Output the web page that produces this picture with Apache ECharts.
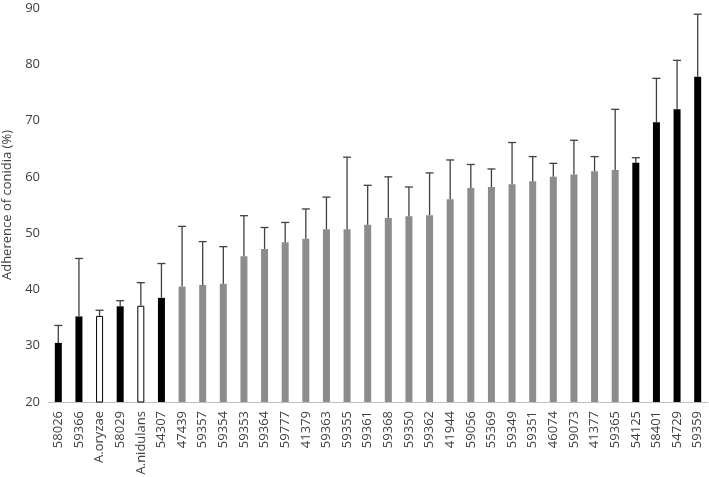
<!DOCTYPE html>
<html>
<head>
    <meta charset="utf-8" />
    <title>Adherence of conidia</title>
    <script src="https://cdn.jsdelivr.net/npm/echarts@6/dist/echarts.min.js"></script>
    <style>
        html, body { margin: 0; padding: 0; background: #fff; }
        #chart { width: 709px; height: 477px; }
    </style>
</head>
<body>
    <div id="chart"></div>
    <script>
        // strains, in plotted order
        var strains = ['58026', '59366', 'A.oryzae', '58029', 'A.nidulans', '54307', '47439', '59357', '59354', '59353',
            '59364', '59777', '41379', '59363', '59355', '59361', '59368', '59350', '59362', '41944',
            '59056', '55369', '59349', '59351', '46074', '59073', '41377', '59365', '54125', '58401',
            '54729', '59359'];
        // mean adherence (%)
        var adherence = [30.5, 35.2, 35.3, 37.0, 37.1, 38.5, 40.5, 40.8, 41.0, 45.9,
            47.2, 48.4, 49.0, 50.7, 50.7, 51.5, 52.7, 53.0, 53.2, 56.0,
            58.0, 58.2, 58.7, 59.2, 60.0, 60.4, 61.0, 61.2, 62.5, 69.7,
            72.0, 77.8];
        // upper error (sd)
        var sd = [3.1, 10.3, 1.0, 1.0, 4.1, 6.1, 10.7, 7.7, 6.6, 7.2,
            3.8, 3.5, 5.3, 5.7, 12.8, 7.0, 7.3, 5.2, 7.5, 7.0,
            4.2, 3.2, 7.4, 4.4, 2.4, 6.1, 2.6, 10.8, 0.9, 7.8,
            8.7, 11.1];
        // bar style group: b = black, g = grey, o = open
        var group = ['b', 'b', 'o', 'b', 'o', 'b', 'g', 'g', 'g', 'g',
            'g', 'g', 'g', 'g', 'g', 'g', 'g', 'g', 'g', 'g',
            'g', 'g', 'g', 'g', 'g', 'g', 'g', 'g', 'b', 'b',
            'b', 'b'];
        var yTicks = [20, 30, 40, 50, 60, 70, 80, 90];

        var styles = {
            b: { color: '#000000', borderColor: '#000000', borderWidth: 0 },
            g: { color: '#8c8c8c', borderColor: '#8c8c8c', borderWidth: 0 },
            o: { color: '#ffffff', borderColor: '#000000', borderWidth: 1 }
        };

        var barData = [];
        var errData = [];
        for (var i = 0; i < strains.length; i++) {
            barData.push({ value: adherence[i], itemStyle: styles[group[i]] });
            errData.push([i, adherence[i], adherence[i] + sd[i]]);
        }

        var chart = echarts.init(document.getElementById('chart'));
        var font = '"Open Sans", "Liberation Sans", sans-serif';
        chart.setOption({
            animation: false,
            grid: { left: 48, right: 1, top: 8, bottom: 75, outerBoundsMode: 'none' },
            xAxis: {
                type: 'category',
                data: strains,
                axisLine: { lineStyle: { color: '#bfbfbf', width: 1 } },
                axisTick: { show: false },
                axisLabel: {
                    rotate: 90, interval: 0, margin: 9,
                    color: '#404040', fontSize: 13, fontFamily: font
                }
            },
            yAxis: {
                type: 'value',
                min: yTicks[0],
                max: yTicks[yTicks.length - 1],
                interval: 10,
                name: 'Adherence of conidia (%)',
                nameLocation: 'middle',
                nameGap: 30,
                nameTextStyle: { color: '#404040', fontSize: 13, fontFamily: font },
                axisLine: { show: false },
                axisTick: { show: false },
                splitLine: { show: false },
                axisLabel: { color: '#404040', fontSize: 13, fontFamily: font, margin: 8 }
            },
            series: [{
                type: 'bar',
                data: barData,
                barWidth: 7
            }, {
                type: 'custom',
                data: errData,
                z: 3,
                renderItem: function (params, api) {
                    var lo = api.coord([api.value(0), api.value(1)]);
                    var hi = api.coord([api.value(0), api.value(2)]);
                    var half = 4;
                    var st = { stroke: '#404040', lineWidth: 1.3 };
                    return {
                        type: 'group',
                        children: [
                            { type: 'line', shape: { x1: hi[0], y1: hi[1], x2: lo[0], y2: lo[1] }, style: st },
                            { type: 'line', shape: { x1: hi[0] - half, y1: hi[1], x2: hi[0] + half, y2: hi[1] }, style: st }
                        ]
                    };
                }
            }]
        });
    </script>
</body>
</html>
